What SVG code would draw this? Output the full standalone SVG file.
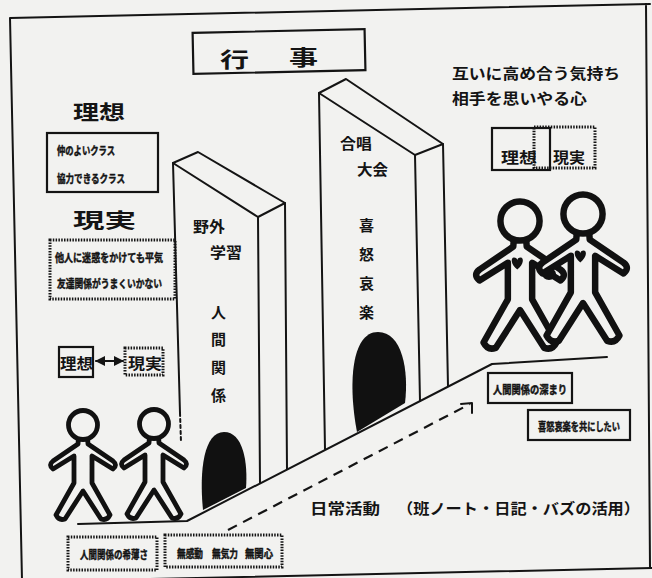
<svg xmlns="http://www.w3.org/2000/svg" width="652" height="578" viewBox="0 0 652 578">
<defs>
<style>
.ink{fill:none;stroke:#141414;stroke-width:2;stroke-linejoin:round;stroke-linecap:round}
.face{fill:#f2f2f0;stroke:#141414;stroke-width:2;stroke-linejoin:round}
.dot{fill:none;stroke:#141414;stroke-width:3;stroke-dasharray:1.5 1.3}
.box{fill:none;stroke:#141414;stroke-width:2.2}
.dash{fill:none;stroke:#141414;stroke-width:2.2;stroke-dasharray:10 7}
.door{fill:#111}
.fig{fill:#f2f2f0;stroke:#111;stroke-width:4.8;stroke-linejoin:round}
text{font-family:"Noto Sans CJK JP","Noto Sans CJK SC",sans-serif;fill:#141414;font-weight:700}
.s{font-size:11px;stroke:#141414;stroke-width:0.45}
.m{font-size:15px}
.l{font-size:20px}
</style>
<marker id="tip" viewBox="0 0 10 10" refX="9" refY="5" markerWidth="5" markerHeight="5" orient="auto-start-reverse">
<path d="M0 0 L10 5 L0 10 Z" fill="#141414"/>
</marker>
<!-- outline figure: head centre at 0,0 -->
<g id="person">
<path class="fig" d="M4.5 13 L5 19 L30 36 Q35 40 30 44 L9 31 L9 58 L27 90 Q24 96 18 94 L0 66 L-18 94 Q-24 96 -27 90 L-9 58 L-9 31 L-30 44 Q-35 40 -30 36 L-5 19 L-4.5 13 Z"/>
<circle class="fig" cx="0" cy="0" r="14.5"/>
</g>
<path id="heart" d="M-2 36 C-7 32 -7 27 -4.5 27 C-3 27 -2 28 -2 29 C-2 28 -1 27 0.5 27 C3 27 3 32 -2 36 Z" fill="#111"/>
</defs>

<!-- paper -->
<rect width="652" height="578" fill="#f2f2f0"/>
<path class="ink" d="M10 18 L650 4 M10 18 L22 580 M150 579 L652 568 M646 4 L650 568"/>

<!-- title -->
<g id="title">
<rect class="box" x="193" y="31" width="172" height="41" transform="rotate(-1.2 279 51)"/>
<text x="220" y="67" style="font-size:21px" textLength="29" lengthAdjust="spacingAndGlyphs">行</text>
<text x="289" y="65" style="font-size:21px" textLength="29" lengthAdjust="spacingAndGlyphs">事</text>
</g>

<!-- left column: ideal / reality -->
<g id="ideal">
<text class="l" x="73" y="120" textLength="52" lengthAdjust="spacingAndGlyphs">理想</text>
<rect class="box" x="47" y="133" width="111" height="59"/>
<text class="s" x="57" y="155" textLength="58" lengthAdjust="spacingAndGlyphs">仲のよいクラス</text>
<text class="s" x="57" y="183" textLength="68" lengthAdjust="spacingAndGlyphs">協力できるクラス</text>
</g>
<g id="reality">
<text class="l" x="73" y="228" textLength="63" lengthAdjust="spacingAndGlyphs">現実</text>
<rect class="dot" x="50" y="240" width="125" height="59"/>
<text class="s" x="55" y="262" textLength="108" lengthAdjust="spacingAndGlyphs">他人に迷惑をかけても平気</text>
<text class="s" x="57" y="288" textLength="105" lengthAdjust="spacingAndGlyphs">友達関係がうまくいかない</text>
</g>
<g id="gap">
<rect class="box" x="59" y="347" width="34" height="30"/>
<text class="m" x="60" y="369" textLength="33" lengthAdjust="spacingAndGlyphs">理想</text>
<rect class="dot" x="125" y="348" width="38" height="27"/>
<text class="m" x="128" y="369" textLength="34" lengthAdjust="spacingAndGlyphs">現実</text>
</g>

<!-- ground and slope -->
<g id="ground">
<path class="ink" d="M78 524 L187 521 L492 364 L607 357"/>
</g>

<!-- event blocks -->
<g id="block-outdoor">
<path class="face" d="M173 163 L198 152 L285 203 L258 217 Z"/>
<path class="ink" d="M173 163 L180 413 M258 217 L260 483 M285 203 L287 469"/>
<path class="ink" d="M180 413 L181 442" stroke-dasharray="3 3"/>
<path class="door" d="M203 510 C199 470 204 432 224 432 C243 432 248 462 246 488 Z"/>
<text class="m" x="193" y="232" textLength="32" lengthAdjust="spacingAndGlyphs">野外</text>
<text class="m" x="210" y="258" textLength="32" lengthAdjust="spacingAndGlyphs">学習</text>
<text class="m" x="211" y="318">人</text>
<text class="m" x="211" y="345">間</text>
<text class="m" x="211" y="373">関</text>
<text class="m" x="211" y="401">係</text>
</g>
<g id="block-chorus">
<path class="face" d="M319 93 L346 79 L443 144 L415 155 Z"/>
<path class="ink" d="M319 93 L325 449 M415 155 L420 401 M443 144 L448 386"/>
<path class="door" d="M357 432 C348 385 351 332 378 332 C402 332 409 370 405 403 Z"/>
<text class="m" x="340" y="149" textLength="32" lengthAdjust="spacingAndGlyphs">合唱</text>
<text class="m" x="357" y="175" textLength="31" lengthAdjust="spacingAndGlyphs">大会</text>
<text class="m" x="359" y="231">喜</text>
<text class="m" x="359" y="260">怒</text>
<text class="m" x="359" y="289">哀</text>
<text class="m" x="359" y="318">楽</text>
</g>

<!-- right side: goal -->
<g id="goal">
<text class="m" x="452" y="79" textLength="168" lengthAdjust="spacingAndGlyphs">互いに高め合う気持ち</text>
<text class="m" x="452" y="104" textLength="135" lengthAdjust="spacingAndGlyphs">相手を思いやる心</text>
<rect class="box" x="492" y="128" width="58" height="42"/>
<rect class="dot" x="534" y="127" width="61" height="41"/>
<text class="m" x="501" y="163" textLength="36" lengthAdjust="spacingAndGlyphs">理想</text>
<text class="m" x="553" y="163" textLength="32" lengthAdjust="spacingAndGlyphs">現実</text>
</g>
<g id="result">
<rect class="box" x="488" y="373" width="84" height="30"/>
<text class="s" x="493" y="394" textLength="74" lengthAdjust="spacingAndGlyphs">人間関係の深まり</text>
<rect class="box" x="528" y="410" width="102" height="30"/>
<text class="s" x="538" y="431" textLength="82" lengthAdjust="spacingAndGlyphs">喜怒哀楽を共にしたい</text>
</g>

<!-- bottom: problems -->
<g id="problems">
<rect class="dot" x="68" y="537" width="89" height="33"/>
<text class="s" x="80" y="559" textLength="68" lengthAdjust="spacingAndGlyphs">人間関係の希薄さ</text>
<rect class="dot" x="165" y="535" width="117" height="32"/>
<text class="s" x="177" y="558" textLength="26" lengthAdjust="spacingAndGlyphs">無感動</text>
<text class="s" x="212" y="558" textLength="26" lengthAdjust="spacingAndGlyphs">無気力</text>
<text class="s" x="245" y="558" textLength="28" lengthAdjust="spacingAndGlyphs">無関心</text>
</g>

<g id="daily">
<text class="m" x="310" y="514" textLength="70" lengthAdjust="spacingAndGlyphs">日常活動</text>
<text class="m" x="397" y="514" textLength="243" lengthAdjust="spacingAndGlyphs">（班ノート・日記・バズの活用）</text>
</g>

<!-- connectors -->
<g id="connectors">
<path class="ink" d="M96 361 L123 361" marker-start="url(#tip)" marker-end="url(#tip)"/>
<path class="dash" d="M228 530 L470 404"/>
<path class="ink" d="M461 404 L472 403 L472 413"/>
</g>

<!-- people -->
<g id="pair-left">
<use href="#person" transform="translate(83 425)"/>
<use href="#person" transform="translate(154 424)"/>
</g>
<g id="pair-right">
<use href="#person" transform="translate(520 221) scale(1.35)"/>
<use href="#person" transform="translate(583 214) scale(1.35)"/>
<use href="#heart" transform="translate(520 221) scale(1.35)"/>
<use href="#heart" transform="translate(583 214) scale(1.35)"/>
<ellipse cx="549" cy="274" rx="7" ry="6" fill="#111"/>
</g>
</svg>
